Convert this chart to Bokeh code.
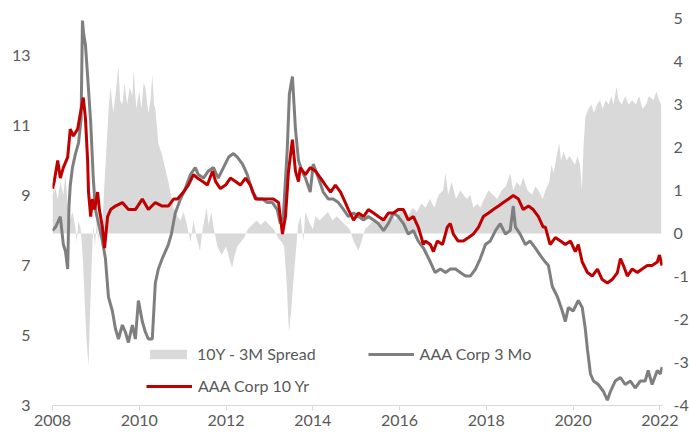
from bokeh.plotting import figure
from bokeh.models import Range1d, LinearAxis, FixedTicker, Legend, LegendItem, ColumnDataSource
from bokeh.embed import file_html
from bokeh.resources import INLINE

# ---- data (decimal years) ----
years_3m = [2008.00, 2008.07, 2008.18, 2008.25, 2008.30, 2008.35, 2008.38, 2008.41, 2008.46, 2008.53,
            2008.60, 2008.66, 2008.69, 2008.72, 2008.76, 2008.81, 2008.88, 2008.94, 2008.99, 2009.06,
            2009.15, 2009.22, 2009.29, 2009.38, 2009.45, 2009.52, 2009.61, 2009.68, 2009.75, 2009.84,
            2009.91, 2009.98, 2010.07, 2010.14, 2010.21, 2010.30, 2010.37, 2010.44, 2010.53, 2010.60,
            2010.67, 2010.74, 2010.83, 2010.95, 2011.06, 2011.18, 2011.29, 2011.36, 2011.48, 2011.59,
            2011.71, 2011.82, 2011.94, 2012.06, 2012.17, 2012.26, 2012.38, 2012.49, 2012.61, 2012.72,
            2012.84, 2012.95, 2013.07, 2013.18, 2013.25, 2013.32, 2013.41, 2013.46, 2013.53, 2013.60,
            2013.67, 2013.75, 2013.83, 2013.94, 2014.01, 2014.13, 2014.24, 2014.36, 2014.47, 2014.59,
            2014.71, 2014.82, 2014.94, 2015.05, 2015.17, 2015.28, 2015.40, 2015.51, 2015.63, 2015.74,
            2015.86, 2015.97, 2016.09, 2016.20, 2016.32, 2016.43, 2016.55, 2016.59, 2016.71, 2016.82,
            2016.94, 2017.06, 2017.17, 2017.29, 2017.40, 2017.52, 2017.63, 2017.75, 2017.86, 2017.98,
            2018.09, 2018.21, 2018.32, 2018.44, 2018.55, 2018.62, 2018.67, 2018.78, 2018.90, 2019.01,
            2019.13, 2019.24, 2019.36, 2019.43, 2019.52, 2019.64, 2019.75, 2019.82, 2019.89, 2020.00,
            2020.12, 2020.21, 2020.28, 2020.33, 2020.40, 2020.47, 2020.58, 2020.70, 2020.79, 2020.86,
            2020.97, 2021.09, 2021.20, 2021.32, 2021.43, 2021.55, 2021.66, 2021.73, 2021.82, 2021.94,
            2022.01, 2022.05]
aaa_3m = [8.0, 8.1, 8.4, 7.6, 7.4, 6.9, 8.7, 9.3, 9.8, 10.2,
          10.5, 11.2, 14.0, 13.6, 13.3, 12.4, 11.1, 9.5, 8.6, 8.2,
          7.7, 7.2, 6.1, 5.7, 5.2, 4.9, 5.3, 5.1, 4.8, 5.3,
          4.9, 6.0, 5.4, 5.1, 4.9, 4.9, 6.5, 6.9, 7.2, 7.4,
          7.6, 7.9, 8.5, 8.9, 9.2, 9.6, 9.8, 9.6, 9.5, 9.7,
          9.8, 9.5, 9.8, 10.1, 10.2, 10.1, 9.9, 9.6, 9.1, 8.9,
          8.9, 8.8, 8.8, 8.6, 8.2, 8.4, 10.3, 11.9, 12.4, 10.9,
          10.0, 9.7, 9.5, 9.1, 9.9, 9.5, 9.1, 8.9, 8.9, 8.8,
          8.6, 8.4, 8.5, 8.4, 8.3, 8.4, 8.3, 8.2, 8.0, 8.2,
          8.5, 8.4, 8.2, 7.9, 8.0, 7.7, 7.5, 7.4, 7.1, 6.8,
          6.9, 6.8, 6.9, 6.9, 6.8, 6.7, 6.7, 6.9, 7.2, 7.6,
          7.7, 8.0, 8.2, 7.9, 8.0, 8.7, 8.1, 7.9, 7.6, 7.7,
          7.5, 7.3, 7.1, 7.0, 6.4, 6.1, 5.7, 5.4, 5.8, 5.7,
          6.0, 5.8, 5.2, 4.6, 3.9, 3.7, 3.6, 3.4, 3.15, 3.4,
          3.7, 3.8, 3.6, 3.7, 3.5, 3.7, 3.7, 4.0, 3.6, 4.0,
          3.9, 4.1]

years_10y = [2008.00, 2008.04, 2008.12, 2008.18, 2008.25, 2008.35, 2008.41, 2008.48, 2008.58, 2008.65,
             2008.71, 2008.76, 2008.81, 2008.83, 2008.88, 2008.92, 2008.97, 2009.04, 2009.08, 2009.15,
             2009.20, 2009.27, 2009.34, 2009.45, 2009.61, 2009.75, 2009.91, 2010.07, 2010.21, 2010.37,
             2010.53, 2010.67, 2010.79, 2010.88, 2011.02, 2011.13, 2011.25, 2011.34, 2011.46, 2011.57,
             2011.69, 2011.76, 2011.87, 2011.99, 2012.10, 2012.22, 2012.33, 2012.45, 2012.56, 2012.68,
             2012.79, 2012.95, 2013.09, 2013.21, 2013.30, 2013.37, 2013.44, 2013.53, 2013.60, 2013.67,
             2013.71, 2013.83, 2013.94, 2014.06, 2014.18, 2014.29, 2014.41, 2014.52, 2014.64, 2014.75,
             2014.82, 2014.94, 2015.05, 2015.17, 2015.28, 2015.40, 2015.51, 2015.63, 2015.74, 2015.86,
             2015.97, 2016.09, 2016.20, 2016.32, 2016.43, 2016.55, 2016.59, 2016.71, 2016.78, 2016.87,
             2016.99, 2017.10, 2017.17, 2017.24, 2017.35, 2017.47, 2017.59, 2017.70, 2017.82, 2017.93,
             2018.05, 2018.16, 2018.28, 2018.39, 2018.51, 2018.62, 2018.74, 2018.85, 2018.97, 2019.08,
             2019.20, 2019.31, 2019.36, 2019.47, 2019.59, 2019.71, 2019.82, 2019.94, 2020.05, 2020.12,
             2020.21, 2020.33, 2020.44, 2020.56, 2020.67, 2020.79, 2020.90, 2021.02, 2021.09, 2021.16,
             2021.25, 2021.36, 2021.48, 2021.59, 2021.71, 2021.82, 2021.94, 2021.99, 2022.05]
aaa_10y = [9.2, 9.4, 10.0, 9.5, 9.8, 10.1, 10.9, 10.7, 10.9, 11.4,
           11.8, 11.2, 10.0, 9.1, 8.4, 8.9, 8.6, 9.1, 8.6, 8.1,
           7.5, 8.4, 8.6, 8.7, 8.8, 8.6, 8.6, 8.9, 8.6, 8.8,
           8.7, 8.7, 8.9, 8.9, 9.1, 9.3, 9.6, 9.5, 9.4, 9.3,
           9.7, 9.4, 9.2, 9.3, 9.5, 9.4, 9.3, 9.5, 9.3, 8.9,
           8.9, 8.9, 8.9, 8.8, 7.9, 8.4, 9.7, 10.6, 9.7, 9.4,
           9.8, 9.6, 9.8, 9.7, 9.5, 9.3, 9.1, 9.3, 9.1, 8.8,
           8.6, 8.3, 8.5, 8.4, 8.6, 8.5, 8.4, 8.3, 8.5, 8.5,
           8.6, 8.6, 8.3, 8.4, 8.1, 7.6, 7.7, 7.6, 7.4, 7.7,
           7.6, 8.1, 8.2, 7.9, 7.7, 7.7, 7.8, 7.9, 8.1, 8.4,
           8.5, 8.6, 8.7, 8.8, 8.9, 9.0, 8.9, 8.6, 8.7, 8.6,
           8.4, 8.1, 8.1, 7.6, 7.8, 7.7, 7.6, 7.7, 7.4, 7.6,
           7.1, 6.8, 6.7, 6.9, 6.6, 6.5, 6.6, 6.8, 7.2, 7.0,
           6.7, 6.9, 6.8, 6.9, 7.0, 7.0, 7.1, 7.3, 7.0]

years_spread = [2008.00, 2008.06, 2008.12, 2008.18, 2008.25, 2008.30, 2008.35, 2008.40, 2008.46, 2008.52,
                2008.56, 2008.60, 2008.65, 2008.70, 2008.74, 2008.78, 2008.83, 2008.86, 2008.90, 2008.94,
                2008.98, 2009.02, 2009.06, 2009.10, 2009.15, 2009.20, 2009.25, 2009.30, 2009.34, 2009.40,
                2009.45, 2009.52, 2009.56, 2009.61, 2009.66, 2009.72, 2009.78, 2009.84, 2009.87, 2009.93,
                2010.00, 2010.05, 2010.10, 2010.14, 2010.21, 2010.26, 2010.30, 2010.34, 2010.37, 2010.44,
                2010.53, 2010.60, 2010.67, 2010.75, 2010.79, 2010.88, 2010.95, 2011.02, 2011.10, 2011.18,
                2011.25, 2011.32, 2011.40, 2011.46, 2011.55, 2011.60, 2011.66, 2011.72, 2011.80, 2011.90,
                2012.00, 2012.08, 2012.14, 2012.20, 2012.26, 2012.34, 2012.42, 2012.50, 2012.60, 2012.70,
                2012.80, 2012.90, 2013.00, 2013.10, 2013.20, 2013.28, 2013.34, 2013.40, 2013.45, 2013.50,
                2013.56, 2013.62, 2013.66, 2013.72, 2013.78, 2013.83, 2013.90, 2014.00, 2014.06, 2014.15,
                2014.25, 2014.35, 2014.45, 2014.55, 2014.65, 2014.75, 2014.85, 2014.95, 2015.05, 2015.12,
                2015.20, 2015.30, 2015.40, 2015.50, 2015.60, 2015.70, 2015.80, 2015.90, 2016.00, 2016.10,
                2016.20, 2016.30, 2016.40, 2016.50, 2016.60, 2016.70, 2016.80, 2016.90, 2017.00, 2017.06,
                2017.12, 2017.20, 2017.30, 2017.40, 2017.47, 2017.55, 2017.63, 2017.70, 2017.80, 2017.86,
                2017.95, 2018.05, 2018.15, 2018.25, 2018.35, 2018.45, 2018.55, 2018.62, 2018.70, 2018.78,
                2018.85, 2018.95, 2019.05, 2019.13, 2019.20, 2019.30, 2019.36, 2019.45, 2019.50, 2019.55,
                2019.62, 2019.68, 2019.72, 2019.78, 2019.85, 2019.92, 2019.98, 2020.04, 2020.10, 2020.16,
                2020.20, 2020.24, 2020.28, 2020.35, 2020.42, 2020.48, 2020.55, 2020.62, 2020.68, 2020.75,
                2020.82, 2020.88, 2020.93, 2021.00, 2021.05, 2021.12, 2021.20, 2021.28, 2021.36, 2021.45,
                2021.52, 2021.60, 2021.68, 2021.75, 2021.85, 2021.92, 2021.98, 2022.03]
spread = [0.9, 1.1, 0.8, 1.2, 0.9, 1.4, 0.6, 0.3, 0.5, 0.2,
          -0.2, 0.3, 0.1, -0.6, -1.5, -2.4, -3.1, -2.0, -0.8, 0.2,
          -0.3, 0.3, -0.2, 0.4, 0.2, 1.2, 2.1, 3.0, 3.4, 2.8,
          3.2, 3.9, 3.1, 3.0, 3.5, 3.0, 3.4, 3.2, 3.8, 2.9,
          3.3, 2.9, 3.5, 3.4, 2.8, 3.1, 3.7, 3.0, 2.9, 2.1,
          1.8, 1.5, 1.2, 0.8, 0.6, 0.4, 0.3, 0.5, 0.2, -0.2,
          0.3, -0.1, -0.4, 0.1, 0.6, 0.2, 0.5, 0.1, -0.3, -0.5,
          -0.3, -0.6, -0.8, -0.5, -0.3, -0.2, -0.1, 0.1, 0.2, 0.3,
          0.2, 0.3, 0.2, 0.1, -0.1, -0.2, -0.3, -1.2, -2.3, -1.8,
          -1.0, -0.3, 0.2, 0.4, -0.2, 0.5, 0.3, 0.1, 0.4, 0.3,
          0.4, 0.5, 0.3, 0.4, 0.3, 0.2, 0.1, -0.2, -0.4, -0.2,
          0.1, 0.2, 0.3, 0.2, 0.4, 0.3, 0.5, 0.3, 0.5, 0.6,
          0.4, 0.6, 0.5, 0.7, 0.6, 0.8, 0.6, 0.9, 1.0, 1.4,
          0.9, 1.2, 0.8, 1.0, 0.9, 0.8, 0.9, 0.6, 0.7, 0.6,
          0.8, 1.0, 0.9, 0.8, 1.0, 1.1, 1.4, 1.0, 1.2, 1.1,
          1.3, 1.0, 0.9, 1.1, 1.0, 0.8, 1.0, 1.2, 1.6, 1.4,
          1.8, 2.1, 1.7, 1.9, 1.7, 1.8, 1.7, 1.6, 1.8, 1.6,
          1.0, 2.0, 2.7, 2.9, 3.0, 2.8, 3.0, 3.1, 2.9, 3.1,
          3.0, 3.2, 3.0, 3.4, 3.1, 3.0, 3.2, 3.0, 3.1, 3.0,
          3.2, 2.9, 3.0, 3.2, 3.1, 3.3, 3.1, 3.0]

x_ticks = [2008, 2010, 2012, 2014, 2016, 2018, 2020, 2022]
left_ticks = [3, 5, 7, 9, 11, 13]
right_ticks = [-4, -3, -2, -1, 0, 1, 2, 3, 4, 5]
right_tick_labels = {t: ("-" + str(-t) if t < 0 else str(t)) for t in right_ticks}

FONT = "Lato"
TXT = "#595959"

p = figure(frame_width=610, frame_height=387,
           x_range=Range1d(2008, 2022.06), y_range=Range1d(3, 14.06),
           output_backend="svg", toolbar_location=None,
           min_border_left=52, min_border_top=18, min_border_bottom=32, min_border_right=0,
           outline_line_color=None, background_fill_color="white", border_fill_color="white")
p.extra_y_ranges = {"right": Range1d(-4, 5)}
p.xgrid.visible = False
p.ygrid.visible = False

src_sp = ColumnDataSource(dict(x=years_spread, y2=spread, y1=[0] * len(spread)))
r_sp = p.varea(x="x", y1="y1", y2="y2", source=src_sp, y_range_name="right",
               fill_color="#D9D9D9")
r_3m = p.line(years_3m, aaa_3m, line_color="#7F7F7F", line_width=3)
r_10 = p.line(years_10y, aaa_10y, line_color="#C00000", line_width=3)

# axes
xa = p.xaxis[0]
xa.ticker = FixedTicker(ticks=x_ticks)
xa.axis_line_color = "#D9D9D9"
xa.major_tick_line_color = "#D9D9D9"
xa.major_tick_out = 5
xa.major_tick_in = 0
xa.minor_tick_line_color = None
xa.major_label_text_font = FONT
xa.major_label_text_font_size = "16px"
xa.major_label_text_color = TXT
xa.major_label_standoff = 4

ya = p.yaxis[0]
ya.ticker = FixedTicker(ticks=left_ticks)
ya.axis_line_color = None
ya.major_tick_line_color = None
ya.major_tick_out = 0
ya.major_tick_in = 0
ya.minor_tick_line_color = None
ya.major_label_text_font = FONT
ya.major_label_text_font_size = "16px"
ya.major_label_text_color = TXT
ya.major_label_standoff = 22

ra = LinearAxis(y_range_name="right", ticker=FixedTicker(ticks=right_ticks),
                major_label_overrides=right_tick_labels)
ra.axis_line_color = None
ra.major_tick_line_color = None
ra.major_tick_out = 0
ra.major_tick_in = 0
ra.minor_tick_line_color = None
ra.major_label_text_font = FONT
ra.major_label_text_font_size = "16px"
ra.major_label_text_color = TXT
ra.major_label_standoff = 11
p.add_layout(ra, "right")

def make_legend(items, loc, spacing):
    lg = Legend(items=items, location=loc, orientation="horizontal", spacing=spacing,
                glyph_width=46, glyph_height=12, label_standoff=6, padding=0, margin=0,
                label_text_font=FONT, label_text_font_size="16px", label_text_color=TXT,
                background_fill_alpha=0, border_line_color=None)
    return lg

leg1 = make_legend([LegendItem(label="10Y - 3M Spread", renderers=[r_sp]),
                    LegendItem(label="AAA Corp 3 Mo", renderers=[r_3m])], (93, 42), 52)
leg2 = make_legend([LegendItem(label="AAA Corp 10 Yr", renderers=[r_10])], (94, 10), 10)
p.add_layout(leg1)
p.add_layout(leg2)

open("out.html", "w").write(file_html(p, INLINE))
